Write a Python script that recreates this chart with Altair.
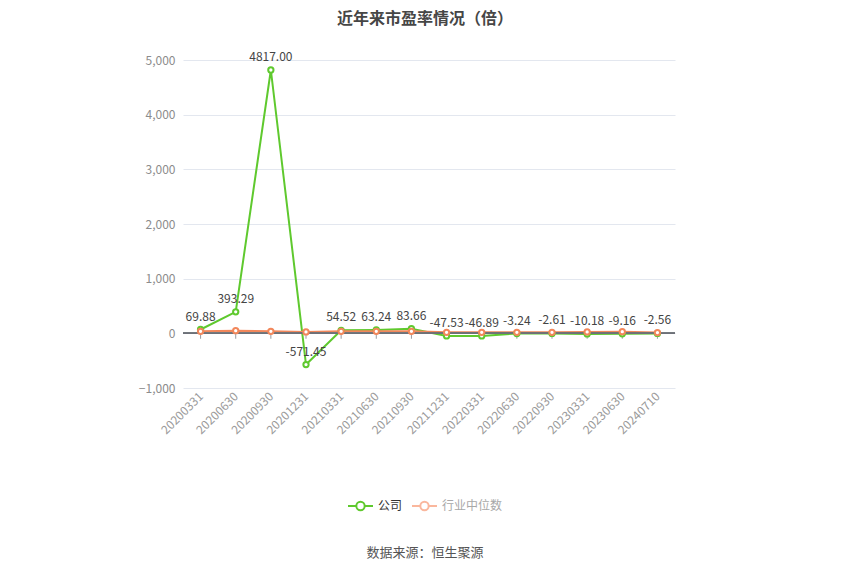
import altair as alt
import pandas as pd

dates = ["20200331", "20200630", "20200930", "20201231", "20210331", "20210630",
         "20210930", "20211231", "20220331", "20220630", "20220930", "20230331",
         "20230630", "20240710"]
company = [69.88, 393.29, 4817.00, -571.45, 54.52, 63.24, 83.66, -47.53, -46.89,
           -3.24, -2.61, -10.18, -9.16, -2.56]
industry = [37, 49, 37, 26, 37, 37, 37, 18, 18, 18, 18, 26, 31, 13]
series_names = ["公司", "行业中位数"]
y_ticks = [-1000, 0, 1000, 2000, 3000, 4000, 5000]

GREEN = "#5fc92e"
ORANGE = "#f2875b"
FONT = "Noto Sans CJK SC"

rows = []
for d, c, i in zip(dates, company, industry):
    rows.append({"date": d, "series": series_names[0], "value": c, "label": f"{c:.2f}"})
    rows.append({"date": d, "series": series_names[1], "value": i, "label": ""})
df = pd.DataFrame(rows)
comp_df = df[df.series == series_names[0]]
zero_df = pd.DataFrame({"date": dates, "value": [0] * len(dates)})

W, H = 492, 328

x_scale = alt.Scale(type="point", padding=0.5)
x_axis = alt.Axis(labelAngle=-45, labelAlign="right", labelBaseline="middle",
                  labelColor="#9a9a9a", labelFontSize=12, labelFont=FONT,
                  domain=False, ticks=False, labelPadding=6, grid=False)
y_scale = alt.Scale(domain=[-1000, 5000], nice=False)
y_axis = alt.Axis(values=y_ticks, format=",.0f", labelColor="#8c8c8c",
                  labelFontSize=12, labelFont=FONT, domain=False, ticks=False,
                  labelPadding=8, gridColor="#e3e7ef", gridWidth=1)


def X():
    return alt.X("date:N", sort=dates, title=None, scale=x_scale, axis=x_axis)


def Y():
    return alt.Y("value:Q", title=None, scale=y_scale, axis=y_axis)


color_scale = alt.Scale(domain=series_names, range=[GREEN, ORANGE])

base = alt.Chart(df)

lines = base.mark_line(strokeWidth=2).encode(
    x=X(), y=Y(),
    color=alt.Color("series:N", scale=color_scale, legend=None),
    order=alt.Order("series:N", sort="ascending"))
zero_rule = alt.Chart(zero_df).mark_rule(color="#6e7079", strokeWidth=1).encode(
    y=Y(), x=alt.value(0), x2=alt.value(W))
zero_ticks = alt.Chart(zero_df).mark_tick(color="#6e7079", orient="vertical", size=5,
                                          thickness=1, yOffset=3).encode(x=X(), y=Y())
points = base.mark_point(filled=True, fill="white", size=28, strokeWidth=2, opacity=1).encode(
    x=X(), y=Y(),
    stroke=alt.Stroke("series:N", scale=color_scale, legend=None))
labels = alt.Chart(comp_df).mark_text(fontSize=12, font=FONT, color="#444444",
                                      baseline="bottom", dy=-6).encode(
    x=X(), y=Y(), text="label:N")

# manual legend and source
one = zero_df.head(1)
leg_y = 506 - 60
lx1 = 348 - 183
lx2 = 412 - 183
extra = [
    alt.Chart(one).mark_rule(color=GREEN, strokeWidth=2).encode(
        x=alt.value(lx1), x2=alt.value(lx1 + 25), y=alt.value(leg_y)),
    alt.Chart(one).mark_point(filled=True, fill="white", stroke=GREEN, size=70,
                              strokeWidth=2, opacity=1).encode(
        x=alt.value(lx1 + 12.5), y=alt.value(leg_y)),
    alt.Chart(one).mark_text(text=series_names[0], align="left", fontSize=12,
                             font=FONT, color="#333333").encode(
        x=alt.value(lx1 + 30), y=alt.value(leg_y)),
    alt.Chart(one).mark_rule(color="#fab79d", strokeWidth=2).encode(
        x=alt.value(lx2), x2=alt.value(lx2 + 25), y=alt.value(leg_y)),
    alt.Chart(one).mark_point(filled=True, fill="white", stroke="#fab79d", size=70,
                              strokeWidth=2, opacity=1).encode(
        x=alt.value(lx2 + 12.5), y=alt.value(leg_y)),
    alt.Chart(one).mark_text(text=series_names[1], align="left", fontSize=12,
                             font=FONT, color="#a8a8a8").encode(
        x=alt.value(lx2 + 30), y=alt.value(leg_y)),
    alt.Chart(one).mark_text(text="数据来源：恒生聚源", align="center", fontSize=13,
                             font=FONT, color="#555555").encode(
        x=alt.value(425 - 183), y=alt.value(553 - 60)),
]

chart = alt.layer(lines, zero_rule, zero_ticks, points, labels, *extra).properties(
    width=W, height=H,
    background="white",
    title=alt.TitleParams(text="近年来市盈率情况（倍）", anchor="middle", fontSize=16,
                          fontWeight="bold", font=FONT, color="#464646",
                          dx=-4, offset=24),
    autosize=alt.AutoSizeParams(type="none"),
    padding={"left": 175, "top": 52, "right": 834 - 175 - W, "bottom": 559 - 52 - H},
).configure_view(stroke=None)

chart.save("out.html", embed_options={"renderer": "svg", "actions": False})
